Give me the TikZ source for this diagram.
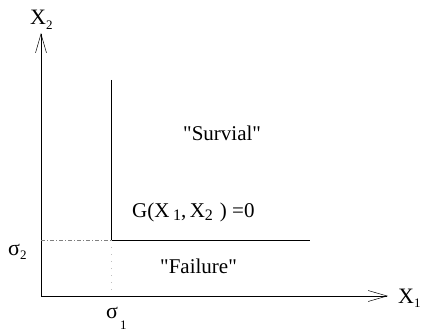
\documentclass[tikz,border=0pt]{standalone}
\usepackage{fontspec}
\setmainfont{Liberation Serif}[Ligatures=TeXOff]
\usetikzlibrary{arrows.meta}
\newcommand\sbsA[1]{\raisebox{-0.4ex}{\fontsize{16}{16}\selectfont #1}}
\newcommand\sbsB[1]{\raisebox{-0.45ex}{\fontsize{13}{13}\selectfont #1}}
\tikzset{
  lbl/.style={inner sep=0pt, anchor=base west, font=\fontsize{21}{24}\selectfont},
  axlbl/.style={inner sep=0pt, anchor=base west, font=\fontsize{22}{24}\selectfont},
  axisline/.style={line width=0.8pt, -{Straight Barb[length=19pt,width=11pt,line width=0.5pt]}},
  bound/.style={line width=0.7pt},
  guide/.style={line width=0.6pt, gray, dash pattern=on 4pt off 2pt on 1pt off 2pt},
  guidedot/.style={line width=0.6pt, gray!50, dash pattern=on 1pt off 6pt},
}
\begin{document}
\begin{tikzpicture}[x=1pt,y=-1pt]
\useasboundingbox (0,0) rectangle (425,334);
\coordinate (O) at (41,296);
\coordinate (Ytip) at (41,33);
\coordinate (Xtip) at (388,296);
\coordinate (C) at (111,240);
\coordinate (Ctop) at (111,80);
\coordinate (Cright) at (310,240);
\coordinate (Y2) at (41,240);
\coordinate (X1b) at (111,296);
\draw[axisline] (O) -- (Ytip);
\draw[axisline] (O) -- (Xtip);
\draw[bound] (Ctop) -- (C) -- (Cright);
\draw[guide] (Y2) -- (C);
\draw[guidedot] (C) -- (X1b);
\node[axlbl] (x2) at (30,25) {X\sbsB{2}};
\node[axlbl] (x1) at (398,303) {X\sbsB{1}};
\node[axlbl] (s2) at (8,255) {σ\sbsB{2}};
\node[axlbl] (s1) at (106,318) {σ\raisebox{-1.1ex}{\fontsize{13}{13}\selectfont\,1}};
\node[lbl] (surv) at (183,140) {"Survial"};
\node[lbl] (fail) at (160,273) {"Failure"};
\node[lbl] (g) at (132,217) {G(X\,\sbsA{1},\,X\sbsA{2}\,\,) =0};
\end{tikzpicture}
\end{document}
